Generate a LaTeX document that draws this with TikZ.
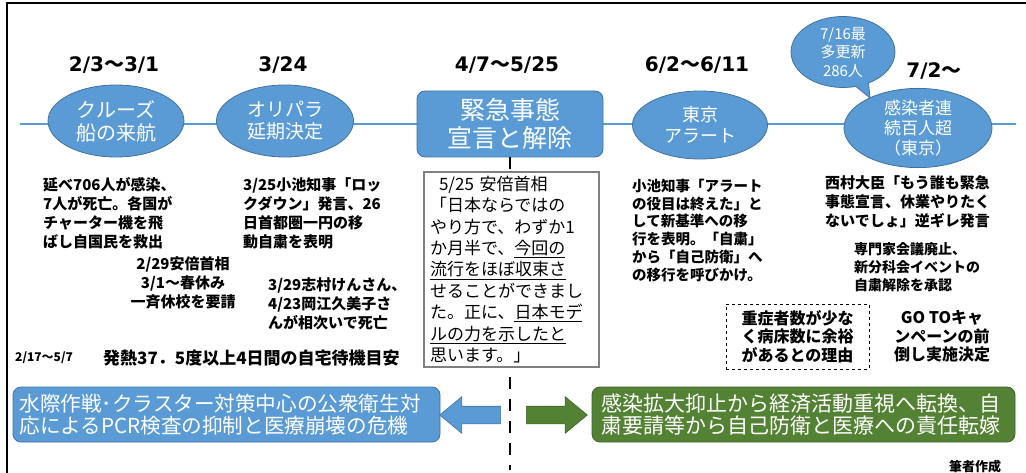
\documentclass[tikz,border=0pt]{standalone}
\usepackage{fontspec}
\setmainfont{Noto Sans CJK JP}
\newfontfamily\jp{Noto Sans CJK JP}
\newfontfamily\dv{DejaVu Sans}
\usetikzlibrary{shapes.geometric,shapes.arrows,shapes.callouts}
\definecolor{bl}{HTML}{5B9BD5}
\definecolor{bld}{HTML}{41719C}
\definecolor{gr}{HTML}{548235}
\definecolor{grd}{HTML}{3E6328}
\tikzset{
  ev/.style={ellipse, fill=bl, draw=bld, line width=0.8pt, text=white, align=center, inner sep=0pt},
  datelbl/.style={font=\dv\bfseries\fontsize{20}{24}\selectfont, inner sep=0pt},
  desc/.style={font=\bfseries\fontsize{15}{19}\selectfont, align=left, inner sep=0pt, anchor=north west},
  bigbox/.style={rounded corners=8pt, line width=0.8pt, text=white, align=left, inner sep=0pt},
  fatarrow/.style={single arrow, inner xsep=0pt, inner ysep=8.5pt, minimum height=61pt,
     single arrow head extend=9.5pt, single arrow tip angle=79, line width=0.6pt},
  timeline/.style={draw=bl, line width=1.6pt},
  divider/.style={draw=black, line width=2.6pt, dash pattern=on 12pt off 10pt},
}
\begin{document}
\begin{tikzpicture}[x=1pt,y=-1pt]
\useasboundingbox (0,0) rectangle (1026,473);
\fill[white] (0,0) rectangle (1026,473);
% frame
\coordinate (fTL) at (7,3);
\coordinate (fTR) at (1026,3);
\coordinate (fBL) at (7,473);
\draw[line width=2.4pt] (fTR) -- (fTL) -- (fBL);

% timeline
\coordinate (tlL) at (20,124);
\coordinate (tlR) at (1016,124);
\draw[timeline] (tlL) -- (tlR);

% dates
\node[datelbl] (d1) at (114,65) {2/3{\jp 〜}3/1};
\node[datelbl] (d2) at (283,65) {3/24};
\node[datelbl] (d3) at (507,65) {4/7{\jp 〜}5/25};
\node[datelbl] (d4) at (697,65) {6/2{\jp 〜}6/11};
\node[datelbl] (d5) at (934,71) {7/2{\jp 〜}};

% events
\node[ev, minimum width=136pt, minimum height=72pt, font=\fontsize{20}{23}\selectfont] (e1) at (116,121) {クルーズ\\船の来航};
\node[ev, minimum width=137pt, minimum height=72pt, font=\fontsize{19}{22}\selectfont] (e2) at (285,121) {オリパラ\\延期決定};
\node[rectangle, rounded corners=8pt, fill=bl, draw=bld, line width=0.8pt, text=white, align=center, inner sep=0pt,
      minimum width=186pt, minimum height=66pt, font=\fontsize{25}{28}\selectfont] (r3) at (510,124) {緊急事態\\宣言と解除};
\node[ev, minimum width=135pt, minimum height=68pt, font=\fontsize{18}{21}\selectfont] (e4) at (700,125) {東京\\アラート};
\node[ev, minimum width=148pt, minimum height=70pt, font=\fontsize{17}{20}\selectfont] (e5) at (918,128) {感染者連\\続百人超\\（東京）};
\node[ellipse callout, fill=bl, draw=bld, line width=0.8pt, text=white, align=center, inner sep=0pt,
      minimum width=104pt, minimum height=70pt, callout absolute pointer={(870,98)},
      font=\fontsize{15}{18.5}\selectfont] (c5) at (843,52) {7/16最\\多更新\\286人};

% divider
\coordinate (dvEnd) at (510,470);
\draw[divider] (r3.south) -- (dvEnd);

% descriptions
\node[desc] (t1) at (43,177) {延べ706人が感染、\\7人が死亡。各国が\\チャーター機を飛\\ばし自国民を救出};
\node[desc] (t2) at (243,177) {3/25小池知事「ロッ\\クダウン」発言、26\\日首都圏一円の移\\動自粛を表明};
\node[desc, anchor=north, align=center] (t3) at (183,256) {2/29安倍首相\\3/1{\jp 〜}春休み\\一斉休校を要請};
\node[desc] (t4) at (268,277) {3/29志村けんさん、\\4/23岡江久美子さ\\んが相次いで死亡};
\node[desc, anchor=west, font=\bfseries\fontsize{12}{14}\selectfont] (t5a) at (15,358) {2/17{\jp 〜}5/7};
\node[desc, anchor=west, font=\bfseries\fontsize{17}{20}\selectfont] (t5b) at (103,358) {発熱37．5度以上4日間の自宅待機目安};

% quote box
\node[rectangle, draw=gray, line width=1.6pt, fill=white, minimum width=175pt, minimum height=195pt,
      text width=163pt, align=left, inner sep=0pt, font=\fontsize{17}{21.4}\selectfont] (q) at (511.5,269.5)
 {\hspace*{9pt}5/25\ 安倍首相\\「日本ならではの\\やり方で、わずか1\\か月半で、\underline{今回の}\\\underline{流行をほぼ収束さ}\\せることができまし\\た。正に、\underline{日本モデ}\\\underline{ルの力を示したと}\\思います。」};

\node[desc, font=\bfseries\fontsize{14.5}{17.7}\selectfont] (t6) at (632,179) {小池知事「アラート\\の役目は終えた」と\\して新基準への移\\行を表明。「自粛」\\から「自己防衛」へ\\の移行を呼びかけ。};
\node[desc] (t7) at (825,175) {西村大臣「もう誰も緊急\\事態宣言、休業やりたく\\ないでしょ」逆ギレ発言};
\node[desc, font=\bfseries\fontsize{14}{18}\selectfont] (t8) at (854,242) {専門家会議廃止、\\新分科会イベントの\\自粛解除を承認};
\node[rectangle, draw=black, dashed, line width=0.7pt, minimum width=143pt, minimum height=65pt, align=center,
      inner sep=0pt, font=\bfseries\fontsize{16}{18.5}\selectfont] (db) at (797.5,336.5) {重症者数が少な\\く病床数に余裕\\があるとの理由};
\node[desc, anchor=center, align=center, font=\bfseries\fontsize{16}{18.5}\selectfont] (t9) at (942,336.5) {GO\ TOキャ\\ンペーンの前\\倒し実施決定};

% bottom boxes and arrows
\node[bigbox, fill=bl, draw=bld, minimum width=427pt, minimum height=55pt, text width=414pt,
      font=\fontsize{20.6}{21.5}\selectfont] (bb) at (226.5,414.5)
 {水際作戦･クラスター対策中心の公衆衛生対\\応によるPCR検査の抑制と医療崩壊の危機};
\node[bigbox, fill=gr, draw=grd, minimum width=423pt, minimum height=55pt, text width=404pt,
      font=\fontsize{21}{21.5}\selectfont] (gb) at (803.5,414.5)
 {感染拡大抑止から経済活動重視へ転換、自\\粛要請等から自己防衛と医療への責任転嫁};
\node[fatarrow, shape border rotate=180, fill=bl, draw=bld] (la) at (475.5,415) {};
\node[fatarrow, fill=gr, draw=grd] (ra) at (551.5,415) {};

\node[inner sep=0pt, font=\bfseries\fontsize{13}{15}\selectfont] (src) at (975,467) {筆者作成};
\end{tikzpicture}
\end{document}
